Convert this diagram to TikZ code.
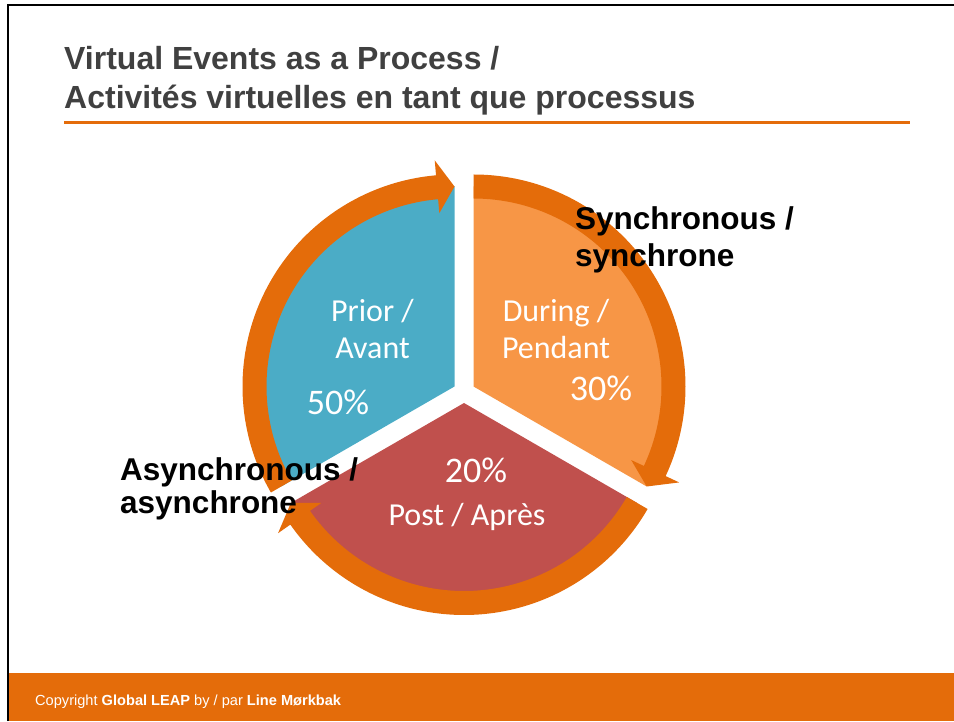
\documentclass[tikz,border=0pt]{standalone}
\usepackage{fontspec}
\setmainfont{Liberation Sans}
\newfontfamily\slicefont{Carlito}
\usepackage{tikz}
\definecolor{priorblue}{RGB}{75,172,198}
\definecolor{duringorange}{RGB}{247,150,70}
\definecolor{postred}{RGB}{192,80,77}
\definecolor{arroworange}{RGB}{228,108,10}
\definecolor{titlegray}{RGB}{64,64,64}
\tikzstyle{band} = [
  fill=arroworange,
]
\tikzstyle{slicetext} = [
  text=white,
  align=center,
  anchor=base,
  inner sep=0pt,
  font=\slicefont\fontsize{32}{37}\selectfont,
]
\tikzstyle{percent} = [
  text=white,
  anchor=base,
  inner sep=0pt,
  font=\slicefont\fontsize{36}{40}\selectfont,
]
\tikzstyle{sidelabel} = [
  align=left,
  anchor=base west,
  inner sep=0pt,
  font=\bfseries\fontsize{31.5}{37}\selectfont,
]
\tikzstyle{titletext} = [
  text=titlegray,
  align=left,
  anchor=base west,
  inner sep=0pt,
  font=\bfseries\fontsize{32}{39}\selectfont,
]

\begin{document}
\begin{tikzpicture}[
    x=1pt,
    y=1pt,
  ]
  \useasboundingbox (0,0) rectangle (954,721);
  % footer and frame
  \fill[arroworange] (9,0) rectangle (954,48);
  \draw[line width=2.2pt] (8,0) -- (8,716) -- (954,716);
  \node[
    text=white,
    anchor=base west,
    inner sep=0pt,
    font=\fontsize{14.6}{16}\selectfont,
  ](copyright) at (35,16)
  {Copyright \textbf{Global LEAP} by / par \textbf{Line Mørkbak}};
  % title (base anchor sits on the last line)
  \node[titletext](title) at (64,612)
  {Virtual Events as a Process /\\Activités virtuelles en tant que processus};
  \draw[arroworange, line width=3pt] (64,598.5) -- (910,598.5);
  % corners of the three slices
  \coordinate (prior) at (454.5,334.5);
  \coordinate (during) at (473.5,334.5);
  \coordinate (post) at (464,318);
  % slices
  \fill[priorblue] (prior) -- ++(90:200)
    arc[start angle=90, end angle=210, radius=200] -- cycle;
  \fill[duringorange] (during) -- ++(-30:200)
    arc[start angle=-30, end angle=90, radius=200] -- cycle;
  \fill[postred] (post) -- ++(-30:200)
    arc[start angle=-30, end angle=-150, radius=200] -- cycle;
  % arrows round the slices
  \begin{scope}[shift={(prior)}]
    \fill[band] (210:212) arc[start angle=210, end angle=95, radius=212]
      -- (95:227) -- (90:200) -- (95:174) -- (95:188)
      arc[start angle=95, end angle=210, radius=188] -- cycle;
  \end{scope}
  \begin{scope}[shift={(during)}]
    \fill[band] (90:212) arc[start angle=90, end angle=-25, radius=212]
      -- (-25:227) -- (-30:200) -- (-25:174) -- (-25:188)
      arc[start angle=-25, end angle=90, radius=188] -- cycle;
  \end{scope}
  \begin{scope}[shift={(post)}]
    \fill[band] (-30:212) arc[start angle=-30, end angle=-145, radius=212]
      -- (-145:227) -- (-150:200) -- (-145:174) -- (-145:188)
      arc[start angle=-145, end angle=-30, radius=188] -- cycle;
  \end{scope}
  % slice texts
  \node[slicetext](priortext) at (372.5,362) {Prior /\\Avant};
  \node[slicetext](duringtext) at (556,362) {During /\\Pendant};
  \node[percent](priorpct) at (338,306) {50\%};
  \node[percent](duringpct) at (601,320) {30\%};
  \node[percent](postpct) at (476,238) {20\%};
  \node[slicetext](posttext) at (467,195) {Post / Après};
  % side labels
  \node[sidelabel](sync) at (575,454) {Synchronous /\\synchrone};
  \node[
    sidelabel,
    font=\bfseries\fontsize{31.5}{33}\selectfont,
  ](async) at (120,207) {Asynchronous /\\asynchrone};
\end{tikzpicture}
\end{document}
